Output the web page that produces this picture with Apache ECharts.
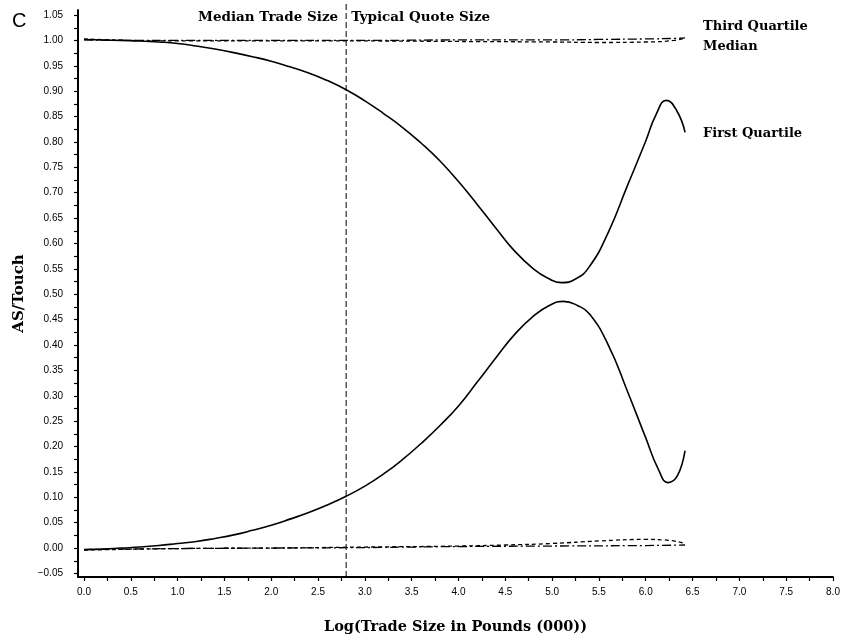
<!DOCTYPE html>
<html>
<head>
<meta charset="utf-8">
<script src="https://cdn.jsdelivr.net/npm/echarts@6/dist/echarts.min.js"></script>
<style>html,body{margin:0;padding:0;background:#fff;}#c{width:848px;height:640px;}</style>
</head>
<body>
<div id="c"></div>
<script>
// ---- data ----
const xTickLabels = [0, 0.5, 1, 1.5, 2, 2.5, 3, 3.5, 4, 4.5, 5, 5.5, 6, 6.5, 7, 7.5, 8];
const yTickLabels = [-0.05, 0, 0.05, 0.1, 0.15, 0.2, 0.25, 0.3, 0.35, 0.4, 0.45, 0.5, 0.55, 0.6, 0.65, 0.7, 0.75, 0.8, 0.85, 0.9, 0.95, 1, 1.05];

const upperSolidX = [0, 0.2, 0.4, 0.6, 0.8, 1.0, 1.2, 1.4, 1.6, 1.8, 2.0, 2.2, 2.4, 2.6, 2.8, 3.0, 3.2, 3.4, 3.6, 3.8, 4.0, 4.2, 4.4, 4.6, 4.8, 4.95, 5.1, 5.25, 5.4, 5.6, 5.8, 6.0, 6.11, 6.22, 6.33, 6.42];
const upperSolidY = [1.002, 1.001, 1.0, 0.999, 0.997, 0.994, 0.989, 0.983, 0.976, 0.968, 0.959, 0.948, 0.936, 0.921, 0.903, 0.881, 0.856, 0.829, 0.798, 0.763, 0.722, 0.677, 0.630, 0.585, 0.550, 0.532, 0.523, 0.530, 0.555, 0.622, 0.712, 0.802, 0.854, 0.882, 0.862, 0.819];

const lowerSolidX = [0, 0.2, 0.4, 0.6, 0.8, 1.0, 1.2, 1.4, 1.6, 1.8, 2.0, 2.2, 2.4, 2.6, 2.8, 3.0, 3.2, 3.4, 3.6, 3.8, 4.0, 4.2, 4.4, 4.6, 4.8, 4.97, 5.12, 5.27, 5.4, 5.6, 5.8, 6.0, 6.13, 6.24, 6.34, 6.42];
const lowerSolidY = [-0.003, -0.002, 0.0, 0.002, 0.005, 0.009, 0.013, 0.019, 0.026, 0.035, 0.045, 0.057, 0.070, 0.085, 0.102, 0.122, 0.146, 0.174, 0.206, 0.241, 0.280, 0.327, 0.375, 0.421, 0.457, 0.478, 0.486, 0.478, 0.461, 0.400, 0.311, 0.217, 0.157, 0.129, 0.143, 0.192];

const upperDashDotX = [0, 1, 2, 3, 4, 5, 5.5, 6.0, 6.3, 6.42];
const upperDashDotY = [1.001, 1.0, 1.0, 1.0, 1.001, 1.001, 1.002, 1.003, 1.004, 1.005];

const upperDashedX = [0, 0.5, 1, 2, 3, 4, 5, 5.5, 6.0, 6.3, 6.42];
const upperDashedY = [1.003, 1.0, 0.999, 0.999, 0.999, 0.998, 0.997, 0.996, 0.997, 1.0, 1.005];

const lowerDashDotX = [0, 1, 2, 3, 4, 5, 6, 6.42];
const lowerDashDotY = [-0.003, -0.001, 0.0, 0.001, 0.003, 0.004, 0.005, 0.006];

const lowerDashedX = [0, 1, 2, 3, 4, 4.5, 5, 5.5, 6.0, 6.2, 6.42];
const lowerDashedY = [-0.004, -0.001, 0.0, 0.002, 0.004, 0.006, 0.009, 0.014, 0.017, 0.016, 0.009];

const medianTradeSize = 2.8;

// ---- chart ----
const pairs = (xs, ys) => xs.map((x, i) => [x, ys[i]]);
const midTicks = arr => {
  const out = [];
  arr.forEach((v, i) => { out.push(v); if (i < arr.length - 1) out.push((v + arr[i + 1]) / 2); });
  return out;
};
const serif = 'DejaVu Serif';
const sans = 'Liberation Sans';
const labelStyle = {fontFamily: serif, fontWeight: 'bold', fontSize: 13, color: '#000'};

const chart = echarts.init(document.getElementById('c'), null, {renderer: 'canvas'});

function lineSeries(name, data, type, width, extra) {
  return Object.assign({
    name, type: 'line', data, showSymbol: false, symbol: 'none',
    smooth: 0.5, animation: false, silent: true,
    lineStyle: {color: '#000', width: width, type: type}
  }, extra || {});
}

chart.setOption({
  animation: false,
  backgroundColor: '#fff',
  title: {text: 'C', left: 7, top: 6, textStyle: {fontFamily: sans, fontWeight: 'normal', fontSize: 20, color: '#000'}},
  grid: {left: 78, right: 15, top: 10, bottom: 59},
  xAxis: {
    type: 'value', min: -0.064, max: 8,
    name: 'Log(Trade Size in Pounds (000))', nameLocation: 'middle', nameGap: 43,
    nameTextStyle: {fontFamily: serif, fontWeight: 'bold', fontSize: 14.5, color: '#000'},
    axisLine: {show: true, onZero: false, lineStyle: {color: '#000', width: 2}},
    axisTick: {show: true, customValues: midTicks(xTickLabels), length: 4, lineStyle: {color: '#000', width: 1.2}},
    axisLabel: {customValues: xTickLabels, formatter: v => v.toFixed(1), fontFamily: sans, fontSize: 10, color: '#000', margin: 10},
    splitLine: {show: false}
  },
  yAxis: {
    type: 'value', min: -0.057, max: 1.06,
    name: 'AS/Touch', nameLocation: 'middle', nameGap: 48,
    nameTextStyle: {fontFamily: serif, fontWeight: 'bold', fontSize: 15, color: '#000'},
    axisLine: {show: true, onZero: false, lineStyle: {color: '#000', width: 2}},
    axisTick: {show: true, customValues: midTicks(yTickLabels), length: 4, lineStyle: {color: '#000', width: 1.2}},
    axisLabel: {customValues: yTickLabels, formatter: v => v.toFixed(2).replace('-', '\u2212'), fontFamily: sans, fontSize: 10, color: '#000', margin: 15},
    splitLine: {show: false}
  },
  series: [
    lineSeries('First Quartile (upper)', pairs(upperSolidX, upperSolidY), 'solid', 1.6, {
      endLabel: {show: true, formatter: 'First Quartile', offset: [10, 1], ...labelStyle}
    }),
    lineSeries('First Quartile (lower)', pairs(lowerSolidX, lowerSolidY), 'solid', 1.6),
    lineSeries('Third Quartile (upper)', pairs(upperDashDotX, upperDashDotY), [9, 3, 2, 3], 1.3, {
      endLabel: {show: true, formatter: 'Third Quartile', offset: [10, -11], ...labelStyle}
    }),
    lineSeries('Median (upper)', pairs(upperDashedX, upperDashedY), [4, 3], 1.3, {
      endLabel: {show: true, formatter: 'Median', offset: [10, 9], ...labelStyle}
    }),
    lineSeries('Third Quartile (lower)', pairs(lowerDashDotX, lowerDashDotY), [9, 3, 2, 3], 1.3),
    lineSeries('Median (lower)', pairs(lowerDashedX, lowerDashedY), [4, 3], 1.3),
    {
      name: 'Median Trade Size', type: 'line', silent: true, animation: false,
      data: [[medianTradeSize, -0.057], [medianTradeSize, 1.072]],
      showSymbol: false, symbol: 'none', clip: false,
      lineStyle: {color: '#000', width: 1, type: [6, 3]}
    }
  ]
});

// annotation texts beside the median-trade-size line
const px = chart.convertToPixel({gridIndex: 0}, [medianTradeSize, 1.05]);
chart.setOption({
  graphic: [
    {type: 'text', x: px[0] - 8, y: 17, style: {text: 'Median Trade Size', align: 'right', verticalAlign: 'middle', font: 'bold 13.5px "DejaVu Serif"', fill: '#000'}},
    {type: 'text', x: px[0] + 5, y: 17, style: {text: 'Typical Quote Size', align: 'left', verticalAlign: 'middle', font: 'bold 13.5px "DejaVu Serif"', fill: '#000'}}
  ]
});
</script>
</body>
</html>
